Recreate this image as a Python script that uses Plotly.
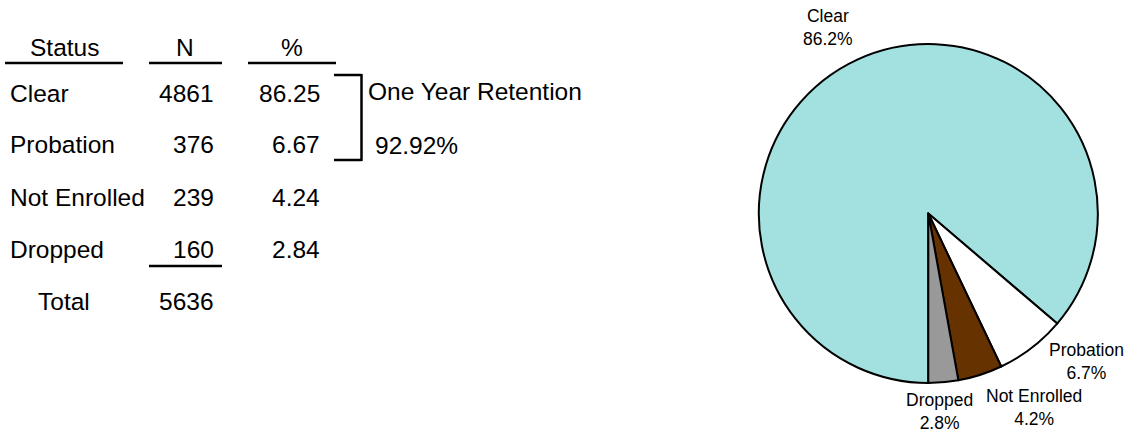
import plotly.graph_objects as go

# ---- data ----
statuses = ["Clear", "Probation", "Not Enrolled", "Dropped"]
counts = [4861, 376, 239, 160]
header_labels = ["Status", "N", "%"]
retention_label = "One Year Retention"
pie_colors = ["#A3E0E0", "#FFFFFF", "#663300", "#999999"]

W, H = 1125, 434
FONT = "Liberation Sans, Arial, sans-serif"
TBL = 24.5
PIE_F = 17.5

total = sum(counts)
pct = [c / total * 100 for c in counts]
retention = (counts[0] + counts[1]) / total * 100


def px(x):
    return x / W


def py(y):
    return 1 - y / H


annotations = []
shapes = []


def text(x, y, s, anchor="left", size=TBL):
    annotations.append(dict(
        x=px(x), y=py(y), xref="paper", yref="paper", text=s, showarrow=False,
        xanchor=anchor, yanchor="middle", font=dict(family=FONT, size=size, color="#000"),
        borderpad=0,
    ))


def line(x0, y0, x1, y1, w=2.5):
    shapes.append(dict(type="line", xref="paper", yref="paper",
                       x0=px(x0), y0=py(y0), x1=px(x1), y1=py(y1),
                       line=dict(color="#000", width=w)))


# header
row_y = [93.5, 144, 197, 249.5]
total_y = 301.5
head_y = 47
text(64, head_y, header_labels[0], "center")
text(185, head_y, header_labels[1], "center")
text(292, head_y, header_labels[2], "center")
line(5, 63, 123, 63)
line(149, 63, 222, 63)
line(248, 63, 336, 63)

for i, s in enumerate(statuses):
    text(9, row_y[i], s, "left")
    text(215, row_y[i], f"{counts[i]}", "right")
    text(321, row_y[i], f"{pct[i]:.2f}", "right")

line(149, 266, 222, 266)
text(64, total_y, "Total", "center")
text(215, total_y, f"{total}", "right")

# bracket
line(334, 75, 361.5, 75)
line(361.5, 74, 361.5, 161)
line(334, 160, 361.5, 160)
text(367, 92, retention_label, "left")
text(374, 145, f"{retention:.2f}%", "left")

# pie labels
pie_label_pos = [(827.5, 27.5), (1086, 361), (1033.5, 407), (939.5, 411)]
for (x, y), s, p in zip(pie_label_pos, statuses, pct):
    text(x, y, f"{s}<br>{p:.1f}%", "center", PIE_F)

cx, cy, r = 928.3, 213.5, 169.5
fig = go.Figure(go.Pie(
    labels=statuses, values=counts, sort=False, direction="clockwise", rotation=180,
    marker=dict(colors=pie_colors, line=dict(color="#000", width=2)),
    textinfo="none", hoverinfo="label+percent",
    domain=dict(x=[px(cx - r), px(cx + r)], y=[py(cy + r), py(cy - r)]),
    showlegend=False,
))

fig.update_layout(
    width=W, height=H, margin=dict(l=0, r=0, t=0, b=0),
    paper_bgcolor="#fff", plot_bgcolor="#fff",
    annotations=annotations, shapes=shapes, showlegend=False,
)
fig.write_html(
    "out.html",
    config={"displayModeBar": False},
    post_script="document.body.style.margin='0';document.body.style.overflow='hidden';",
)
